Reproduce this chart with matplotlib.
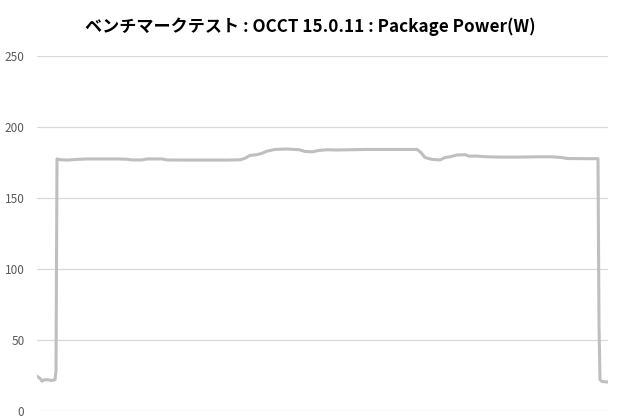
import matplotlib
matplotlib.use('Agg')
from matplotlib import pyplot as plt

plt.rcParams['font.family'] = ['Noto Sans CJK JP', 'DejaVu Sans']

title = 'ベンチマークテスト : OCCT 15.0.11 : Package Power(W)'
yticks = [0, 50, 100, 150, 200, 250]

# time (s) and package power (W)
time = [0, 3, 5, 7, 11, 14, 18, 19, 20, 23, 30, 40, 50, 60, 70, 80, 90, 95,
        105, 110, 125, 130, 150, 170, 190, 203, 208, 213, 220, 225, 230, 238,
        250, 262, 268, 275, 282, 290, 300, 315, 330, 345, 380, 384, 388, 395,
        403, 408, 413, 420, 428, 432, 440, 450, 465, 480, 500, 515, 525, 530,
        550, 561, 562, 563, 565, 571]
power = [24.5, 23, 21, 22, 22, 21.5, 22, 28, 177.5, 177, 176.7, 177.2, 177.5,
         177.5, 177.5, 177.5, 177.3, 176.8, 176.8, 177.5, 177.5, 176.8, 176.7,
         176.7, 176.7, 176.9, 178, 180, 180.5, 181.5, 183, 184.2, 184.5, 184,
         182.8, 182.5, 183.5, 184, 183.8, 184, 184.2, 184.2, 184.2, 182, 178.5,
         177.2, 176.8, 178.5, 179, 180.3, 180.5, 179.5, 179.5, 179, 178.8,
         178.8, 179, 179, 178.5, 177.8, 177.7, 177.7, 60, 22, 20.8, 20.4]

fig = plt.figure(figsize=(6.2, 4.2), dpi=100)
ax = fig.add_axes([37 / 620, 9 / 420, 571 / 620, 355 / 420])

ax.plot(time, power, color='#bfbfbf', linewidth=2.2, solid_joinstyle='round')

ax.set_xlim(time[0], time[-1])
ax.set_ylim(0, 250)
ax.set_yticks(yticks)
ax.set_xticks([])
ax.grid(axis='y', color='#d9d9d9', linewidth=0.9)
ax.set_axisbelow(True)
for s in ax.spines.values():
    s.set_visible(False)
ax.tick_params(axis='y', length=0, pad=9, labelsize=8.5, labelcolor='#595959')

fig.text(0.5, 1 - 27 / 420, title, ha='center', va='center',
         fontsize=12.3, fontweight='bold', color='#000000')

fig.savefig('out.png', dpi=100)
